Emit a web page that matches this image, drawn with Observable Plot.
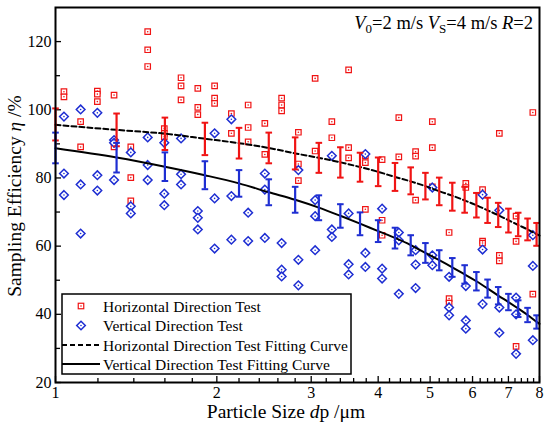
<!DOCTYPE html>
<html><head><meta charset="utf-8">
<script src="https://cdn.jsdelivr.net/npm/d3@7"></script>
<script src="https://cdn.jsdelivr.net/npm/@observablehq/plot@0.6"></script>
<style>body{margin:0;background:#fff}#chart{width:550px;height:431px}</style>
</head><body><div id="chart"></div>
<script>
// APS channel midpoints (µm)
const sizes = [1.037,1.114,1.197,1.286,1.382,1.486,1.596,1.715,1.843,1.981,2.129,2.288,2.458,2.642,2.839,3.051,3.278,3.523,3.786,4.068,4.371,4.698,5.048,5.425,5.829,6.264,6.732,7.234,7.774];
// Horizontal direction test (per channel)
const horizontal = [
  [105.3,103.8],[96.5,89.1],[105.5,104.6,102.4],[104.3,89.1],[89.1,80.1,73.3],
  [122.9,117.6,112.7],[94.5,93.1,92.1],[109.4,107.0,102.9],[106.3,100.7,98.6],[107.0,103.4,101.9],
  [98.9,93.1],[101.4,94.8,90.6],[96.0,86.9],[103.4,101.4,99.7],[93.4,84.1,79.2],
  [109.2,87.9],[96.5,91.8],[111.7,88.9,85.9],[86.5,84.5,70.8],[85.4,67.6,63.2],
  [97.7,86.2],[87.7,86.4,73.5],[96.5,88.9,77.4],[64.0,44.6,43.3],[78.4,77.2],
  [76.6,61.5,60.9],[93.1,57.3,55.7],[68.8,61.4,30.6],[99.2,45.9]
];
// Vertical direction test (per channel)
const vertical = [
  [98.0,81.3,75.0],[100.1,78.1,63.7],[99.1,80.8,76.3],[91.1,90.3,79.4],[87.5,71.7,69.6],
  [91.9,83.8,79.4],[90.3,75.4,72.0],[91.6,81.1,78.1],[70.3,68.3,64.9],[93.1,74.0,59.3],
  [97.2,74.7,61.9],[69.8,61.5],[81.3,76.6,62.4],[60.9,53.1,51.1],[82.3,56.0,48.5],
  [73.5,68.8,58.8],[86.5,64.9,62.7],[69.6,54.7,51.7],[87.0,58.0,53.9],[71.0,53.4,50.5],
  [64.0,61.7,46.0],[58.8,54.6,47.7],[77.2,57.3,54.4],[51.0,42.0,39.7],[48.3,38.2,35.8],
  [75.1,59.0,43.0],[70.5,42.0,34.6],[44.9,40.0,28.4],[63.2,54.2,32.4]
];
// Error bars
const errX = [1.0,1.3,1.6,1.9,2.2,2.5,2.8,3.1,3.4,3.7,4.0,4.3,4.6,4.9,5.2,5.5,5.8,6.1,6.4,6.7,7.0,7.3,7.6,7.9];
const hHigh = [100.4,98.9,97.7,96.2,94.7,93.3,91.9,90.3,89.0,87.4,86.0,84.4,83.1,81.5,80.1,78.6,77.4,75.6,74.2,72.7,71.0,69.8,68.1,66.8];
const hLow  = [91.0,89.3,88.2,86.7,85.7,84.3,82.5,81.5,80.1,78.9,77.6,76.2,75.2,73.7,72.0,70.4,69.8,68.4,66.8,65.6,64.0,62.9,61.7,60.1];
const vHigh = [93.3,90.3,87.5,84.9,82.3,79.6,77.4,74.9,72.3,69.9,67.6,65.4,63.2,60.9,58.8,56.5,54.4,52.4,50.2,48.0,46.0,44.1,41.9,39.7];
const vLow  = [84.3,81.6,79.1,76.7,74.5,72.0,69.8,67.6,65.4,63.2,61.2,59.3,57.3,55.1,52.9,51.0,49.0,47.0,44.9,42.9,41.2,39.2,37.7,35.8];
// Fitting curves
const fitX = [1.0,1.3,1.6,1.9,2.2,2.5,2.8,3.1,3.4,3.7,4.0,4.3,4.6,4.9,5.2,5.5,5.8,6.1,6.4,6.7,7.0,7.3,7.6,7.9,8.0];
const hFit = [95.6,94.1,93.0,91.5,90.2,88.8,87.2,85.9,84.6,83.2,81.8,80.3,79.0,77.6,76.1,74.8,73.4,72.0,70.5,69.1,67.6,66.2,64.9,63.5,63.1];
const vFit = [88.7,86.0,83.3,80.8,78.4,75.8,73.6,71.3,68.9,66.6,64.4,62.4,60.3,58.0,55.9,53.8,51.7,49.7,47.6,45.5,43.6,41.7,39.8,37.8,37.2];
// Ticks
const xTicks = [1,2,3,4,5,6,7,8];
const xMinor = [1.2,1.4,1.6,1.8,2.2,2.4,2.6,2.8,3.2,3.4,3.6,3.8,4.2,4.4,4.6,4.8,5.2,5.4,5.6,5.8,6.2,6.4,6.6,6.8,7.2,7.4,7.6,7.8];
const yTicks = [20,40,60,80,100,120];
const yMinor = [30,50,70,90,110];
const legendLabels = ["Horizontal Direction Test","Vertical Direction Test","Horizontal Direction Test Fitting Curve","Vertical Direction Test Fitting Curve"];

const RED = "#f01414", BLUE = "#1e2ed2";
const W = 550, H = 431, mL = 55, mR = 11, mT = 7, mB = 49;
const plotW = W - mL - mR, plotH = H - mT - mB;

const hPts = sizes.flatMap((s, i) => horizontal[i].map(v => ({x: s, y: v})));
const vPts = sizes.flatMap((s, i) => vertical[i].map(v => ({x: s, y: v})));
const hErr = errX.map((x, i) => ({x, lo: hLow[i], hi: hHigh[i]}));
const vErr = errX.map((x, i) => ({x, lo: vLow[i], hi: vHigh[i]}));
const hLine = fitX.map((x, i) => ({x, y: hFit[i]}));
const vLine = fitX.map((x, i) => ({x, y: vFit[i]}));
const capSym = {draw(ctx, size) { const w = Math.sqrt(size / Math.PI); ctx.moveTo(-w, 0); ctx.lineTo(w, 0); }};

const chart = Plot.plot({
  width: W, height: H,
  marginLeft: mL, marginRight: mR, marginTop: mT, marginBottom: mB,
  style: {fontFamily: "'Liberation Serif', 'Times New Roman', serif", fontSize: "16px", color: "black", background: "white"},
  x: {type: "log", domain: [1, 8], axis: null},
  y: {domain: [20, 130], axis: null},
  marks: [
    Plot.axisY(yTicks, {tickSize: 0, tickPadding: 4, fontSize: 16, label: null}),
    Plot.text(xTicks, {x: d => d, frameAnchor: "bottom", dy: 15, text: d => String(d), fontSize: 16, fill: "black"}),
    Plot.tickY(yTicks, {y: d => d, insetRight: plotW - 6, stroke: "black", strokeWidth: 1.3}),
    Plot.tickY(yMinor, {y: d => d, insetRight: plotW - 5, stroke: "black", strokeWidth: 1.3}),
    Plot.tickX(xTicks, {x: d => d, insetTop: plotH - 6, stroke: "black", strokeWidth: 1.3}),
    Plot.tickX(xMinor, {x: d => d, insetTop: plotH - 4, stroke: "black", strokeWidth: 1.3}),
    // scatter
    Plot.dot(hPts, {x: "x", y: "y", symbol: "square", r: 3.1, stroke: RED, strokeWidth: 1.2, fill: "white"}),
    Plot.dot(hPts, {x: "x", y: "y", r: 0.8, fill: RED, stroke: "none"}),
    Plot.dot(vPts, {x: "x", y: "y", symbol: "diamond2", r: 3.9, stroke: BLUE, strokeWidth: 1.5, fill: "white"}),
    Plot.dot(vPts, {x: "x", y: "y", r: 0.8, fill: BLUE, stroke: "none"}),
    // fitting curves
    Plot.line(hLine, {x: "x", y: "y", stroke: "black", strokeWidth: 2, strokeDasharray: "5,3", curve: "monotone-x"}),
    Plot.line(vLine, {x: "x", y: "y", stroke: "black", strokeWidth: 2, curve: "monotone-x"}),
    // error bars
    Plot.ruleX(hErr, {x: "x", y1: "lo", y2: "hi", stroke: RED, strokeWidth: 2.2}),
    Plot.dot(hErr, {x: "x", y: "lo", symbol: capSym, r: 3.3, stroke: RED, strokeWidth: 2, fill: "none"}),
    Plot.dot(hErr, {x: "x", y: "hi", symbol: capSym, r: 3.3, stroke: RED, strokeWidth: 2, fill: "none"}),
    Plot.ruleX(vErr, {x: "x", y1: "lo", y2: "hi", stroke: BLUE, strokeWidth: 2.2}),
    Plot.dot(vErr, {x: "x", y: "lo", symbol: capSym, r: 3.3, stroke: BLUE, strokeWidth: 2, fill: "none"}),
    Plot.dot(vErr, {x: "x", y: "hi", symbol: capSym, r: 3.3, stroke: BLUE, strokeWidth: 2, fill: "none"}),
    Plot.frame({stroke: "black", strokeWidth: 2})
  ]
});
document.getElementById("chart").appendChild(chart);

const svg = d3.select(chart);
const FONT = "'Liberation Serif', 'Times New Roman', serif";
// y title
const yt = svg.append("text").attr("transform", "translate(21,196) rotate(-90)")
  .attr("text-anchor", "middle").attr("font-family", FONT).attr("font-size", 19.5).attr("fill", "black");
yt.append("tspan").text("Sampling Efficiency ");
yt.append("tspan").attr("font-style", "italic").text("η");
yt.append("tspan").text(" /%");
// x title
const xt = svg.append("text").attr("x", 286).attr("y", 418)
  .attr("text-anchor", "middle").attr("font-family", FONT).attr("font-size", 19.5).attr("fill", "black");
xt.append("tspan").text("Particle Size ");
xt.append("tspan").attr("font-style", "italic").text("d");
xt.append("tspan").text("p /μm");
// annotation
const an = svg.append("text").attr("x", 533).attr("y", 29)
  .attr("text-anchor", "end").attr("font-family", FONT).attr("font-size", 18.5).attr("fill", "black");
an.append("tspan").attr("font-style", "italic").text("V");
an.append("tspan").attr("font-size", 13).attr("dy", 4).text("0");
an.append("tspan").attr("dy", -4).text("=2 m/s ");
an.append("tspan").attr("font-style", "italic").text("V");
an.append("tspan").attr("font-size", 13).attr("dy", 4).text("S");
an.append("tspan").attr("dy", -4).text("=4 m/s ");
an.append("tspan").attr("font-style", "italic").text("R");
an.append("tspan").text("=2");
// legend
const lg = svg.append("g");
lg.append("rect").attr("x", 62).attr("y", 294).attr("width", 289).attr("height", 80)
  .attr("fill", "white").attr("stroke", "black").attr("stroke-width", 1.5);
const rows = [306, 325.5, 345, 364];
const sq = lg.append("g").attr("transform", `translate(81,${rows[0]})`);
sq.append("rect").attr("x", -2.75).attr("y", -2.75).attr("width", 5.5).attr("height", 5.5).attr("fill", "white").attr("stroke", RED).attr("stroke-width", 1.2);
sq.append("circle").attr("r", 0.8).attr("fill", RED);
const dm = lg.append("g").attr("transform", `translate(81,${rows[1]})`);
dm.append("path").attr("d", "M0,-4.3L4.3,0L0,4.3L-4.3,0Z").attr("fill", "white").attr("stroke", BLUE).attr("stroke-width", 1.5);
dm.append("circle").attr("r", 0.8).attr("fill", BLUE);
lg.append("line").attr("x1", 62).attr("x2", 100).attr("y1", rows[2]).attr("y2", rows[2]).attr("stroke", "black").attr("stroke-width", 2).attr("stroke-dasharray", "5,3");
lg.append("line").attr("x1", 62).attr("x2", 100).attr("y1", rows[3]).attr("y2", rows[3]).attr("stroke", "black").attr("stroke-width", 2);
legendLabels.forEach((t, i) => {
  lg.append("text").attr("x", 103).attr("y", rows[i] + 5.5).attr("text-anchor", "start")
    .attr("font-family", FONT).attr("font-size", 15.5).attr("fill", "black").text(t);
});
</script>
</body></html>
